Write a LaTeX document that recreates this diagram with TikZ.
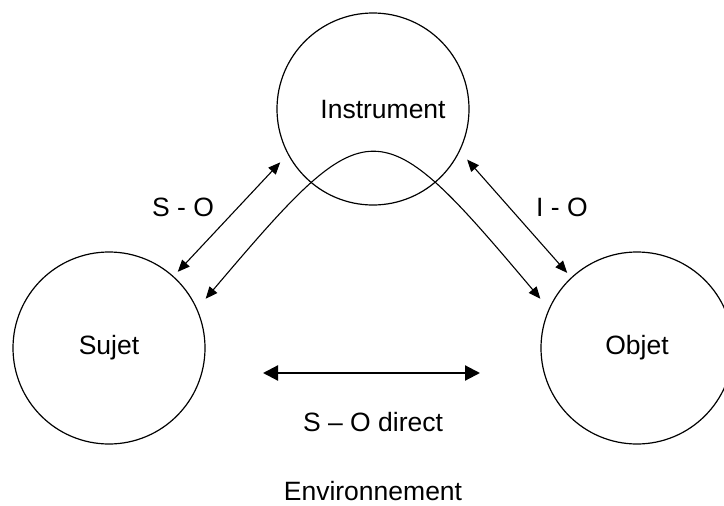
\documentclass[tikz,border=0pt]{standalone}
\usepackage{fontspec}
\setmainfont{Liberation Sans}
\usetikzlibrary{arrows.meta, positioning}

\begin{document}
\begin{tikzpicture}[x=1pt, y=-1pt, every node/.style={font=\fontsize{26.5}{30}\selectfont, inner sep=1pt}]

% Styles
\tikzstyle{cercle} = [draw, circle, line width=1.2pt, minimum size=192pt, inner sep=0pt]
\tikzstyle{lien} = [{Triangle[length=12pt,width=10pt]}-{Triangle[length=12pt,width=10pt]}, line width=1.1pt]
\tikzstyle{lienfort} = [{Triangle[length=15pt,width=15pt]}-{Triangle[length=15pt,width=15pt]}, line width=2.2pt]

\useasboundingbox (0,0) rectangle (724,506);

% Nodes
\node[cercle] (instrument) at (373,109) {};
\node (instrtexte) at (383,110) {Instrument};
\node[cercle] (sujet) at (109,348) {Sujet};
\node[cercle] (objet) at (637,348) {Objet};

\node (so) at (183,207) {S - O};
\node (io) at (562,207) {I - O};
\node (direct) at (373,422) {S – O direct};
\node (env) at (373,491) {Environnement};

\coordinate (dgauche) at (263,373);
\coordinate (ddroite) at (480,373);

% Arrows
\draw[lien, shorten <=11pt, shorten >=6pt] (instrument.208) -- (sujet.48);
\draw[lien, shorten <=11pt, shorten >=6pt] (instrument.334) -- (objet.133);
\draw[lien, shorten <=13pt, shorten >=13pt] (sujet.24) .. controls (370,105) and (377,105) .. (objet.156);
\draw[lienfort] (dgauche) -- (ddroite);

\end{tikzpicture}
\end{document}
